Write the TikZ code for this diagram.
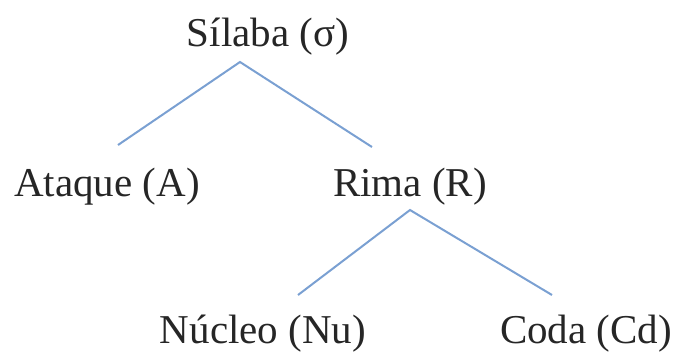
\documentclass[tikz,border=0pt]{standalone}
\usepackage{fontspec}
\setmainfont{Liberation Serif}
\definecolor{branch}{RGB}{122,160,210}
\begin{document}
\begin{tikzpicture}[x=1pt,y=-1pt,
  lbl/.style={anchor=base,inner sep=0pt,font=\fontsize{41}{41}\selectfont,text=black!85},
  edge/.style={draw=branch,line width=2pt}]
\useasboundingbox (0,0) rectangle (678,354);
% labels
\node[lbl] (sil) at (268,46) {Sílaba (σ)};
\node[lbl] (ata) at (107,196) {Ataque (A)};
\node[lbl] (rim) at (410,196) {Rima (R)};
\node[lbl] (nuc) at (263,343) {Núcleo (Nu)};
\node[lbl] (cod) at (586,343) {Coda (Cd)};
% branch ends
\coordinate (silB) at (240,62);
\coordinate (ataT) at (118,145);
\coordinate (rimT) at (372,147);
\coordinate (rimB) at (410,210);
\coordinate (nucT) at (298,295);
\coordinate (codT) at (552,295);
% branches
\draw[edge] (ataT) -- (silB) -- (rimT);
\draw[edge] (nucT) -- (rimB) -- (codT);
\end{tikzpicture}
\end{document}
